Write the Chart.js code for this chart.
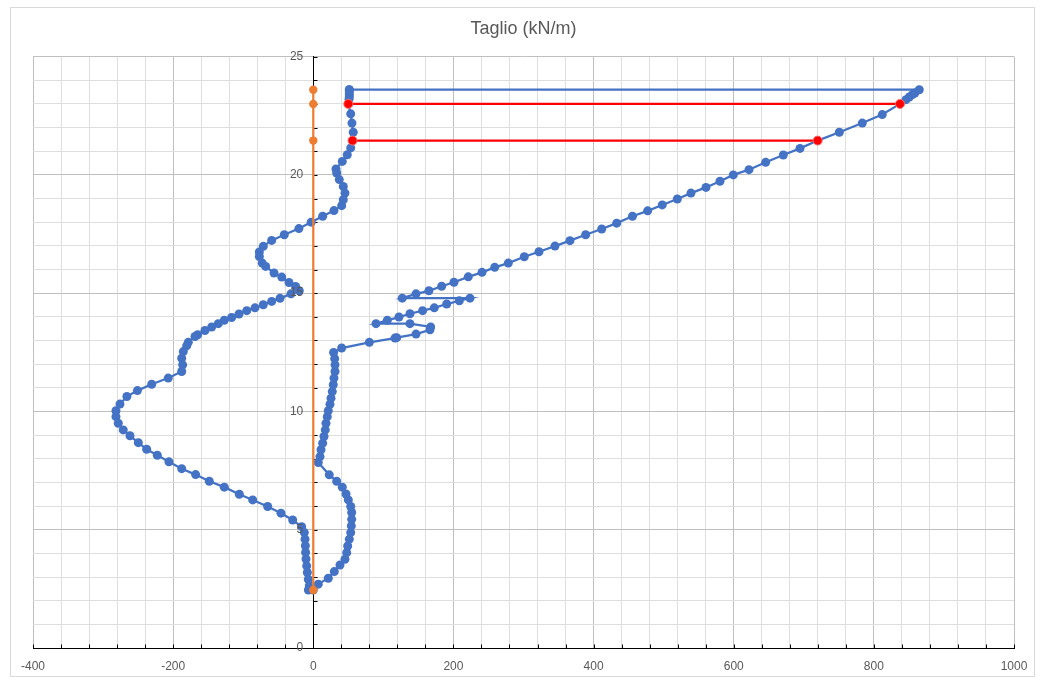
<!DOCTYPE html>
<html>
<head>
<meta charset="utf-8">
<script src="https://cdn.jsdelivr.net/npm/chart.js@4/dist/chart.umd.min.js"></script>
<style>
  html, body { margin: 0; padding: 0; background: #fff; }
  #wrap { width: 1044px; height: 681px; }
</style>
</head>
<body>
<div id="wrap"><canvas id="chart"></canvas></div>
<script>
// blue envelope: left branch top->bottom, right branch bottom->top, back to start
const blueX = [51.4,51.4,51.4,51.4,51,50,53.4,55.2,57,56,53.4,48.5,41.4,32.4,33.4,37.1,42.8,45.2,42.8,40.5,29.5,13.4,-3,-20.5,-41.4,-59.4,-71.4,-77,-77,-72.8,-68,-56,-45,-34.7,-25.2,-20,-31.8,-47.5,-59.4,-71.4,-83.2,-95,-106,-116.5,-127,-135.6,-145,-154.6,-165,-168.8,-178.4,-180.7,-185.5,-187.8,-186.4,-187.8,-207,-230.6,-251,-266,-275.9,-281.6,-281.6,-278.3,-271.2,-261.6,-249.7,-237.8,-222.6,-206,-187.8,-167.9,-148.4,-127,-105.6,-86.5,-65.1,-46.1,-29.4,-16.6,-12.8,-11.8,-11.3,-11,-10.4,-9.4,-8.5,-7.1,-5.7,-7,
  0,7.1,21.4,30,38.1,45.2,47.7,49.1,51.4,53.4,54.3,54.8,54.8,53.4,50,46.7,41.4,33.4,22.8,7.1,9.6,11,13.4,15.3,17.1,18.1,20,21.4,23.8,25.3,27.1,28.5,29.5,31,31,30.5,29,40.5,80,116.6,119,146.6,166.5,167.5,138,89.5,105.6,122.3,138,156,172.7,190.4,208.4,223.6,127,146.6,165,183.2,200.8,221.2,240.8,258.9,278.3,301.1,322.1,344.9,366.3,388.7,411.6,433,455.5,477.2,498,519.5,539,560.4,580.4,599.4,621.8,645.6,670.8,694.6,719.8,750.7,783.5,812,837.3,845.9,850.6,855,858.5,864.8,51.4];
const blueY = [23.6,23.5,23.4,23.3,23.2,23.0,22.58,22.19,21.8,21.45,21.14,20.85,20.57,20.25,20.08,19.8,19.51,19.23,18.95,18.7,18.49,18.25,18.0,17.73,17.47,17.23,16.98,16.74,16.55,16.27,16.13,15.85,15.68,15.45,15.28,15.1,14.97,14.78,14.65,14.51,14.38,14.26,14.12,13.97,13.85,13.71,13.57,13.42,13.24,13.17,12.92,12.77,12.53,12.25,11.97,11.69,11.41,11.15,10.88,10.63,10.31,10.03,9.78,9.5,9.22,8.97,8.68,8.4,8.15,7.87,7.58,7.33,7.05,6.8,6.5,6.26,5.98,5.7,5.41,5.13,4.88,4.6,4.32,4.04,3.76,3.47,3.19,2.9,2.63,2.45,
  2.45,2.7,2.95,3.23,3.51,3.75,4.03,4.31,4.6,4.88,5.16,5.44,5.73,5.98,6.26,6.51,6.8,7.05,7.32,7.84,8.09,8.38,8.66,8.94,9.22,9.5,9.78,10.03,10.3,10.56,10.84,11.13,11.41,11.69,11.97,12.23,12.49,12.68,12.92,13.1,13.12,13.27,13.45,13.57,13.71,13.71,13.85,13.99,14.13,14.26,14.38,14.54,14.68,14.79,14.79,14.97,15.1,15.29,15.46,15.69,15.88,16.09,16.27,16.54,16.75,16.99,17.22,17.47,17.71,17.96,18.25,18.48,18.73,18.98,19.23,19.47,19.73,20.0,20.22,20.53,20.84,21.12,21.45,21.8,22.19,22.55,23.0,23.18,23.29,23.39,23.46,23.6,23.6];

// red links
const redTopX = [50, 837.3];
const redTopY = [23.0, 23.0];
const redLowX = [56, 719.8];
const redLowY = [21.45, 21.45];

// orange vertical
const orangeX = [0, 0, 0, 0];
const orangeY = [2.45, 21.45, 23.0, 23.6];

const xTicks = [-400, -200, 0, 200, 400, 600, 800, 1000];
const yTicks = [0, 5, 10, 15, 20, 25];

const pts = (xs, ys) => xs.map((x, i) => ({x, y: ys[i]}));

const textCol = "#595959";
const majorGrid = "#bfbfbf";
const minorGrid = "#dedede";
const font = "'Liberation Sans', Arial, sans-serif";

const frame = {
  id: "frame",
  beforeDraw(c) {
    const g = c.ctx;
    g.save();
    g.fillStyle = "#fff";
    g.fillRect(0, 0, c.width, c.height);
    g.strokeStyle = "#d9d9d9";
    g.lineWidth = 1;
    g.strokeRect(10.5, 7.5, 1024, 669);
    g.restore();
  }
};

// small black tick marks on the axes, every minor step
const tickMarks = {
  id: "tickMarks",
  beforeDatasetsDraw(c) {
    const g = c.ctx, xs = c.scales.x, ys = c.scales.y;
    const x0 = Math.round(xs.getPixelForValue(0)) + 0.5;
    const y0 = Math.round(ys.getPixelForValue(0)) + 0.5;
    g.save();
    g.strokeStyle = "#000";
    g.lineWidth = 1;
    g.beginPath();
    xs.ticks.forEach(t => {
      const p = Math.round(xs.getPixelForValue(t.value)) + 0.5;
      g.moveTo(p, y0); g.lineTo(p, y0 - 4);
    });
    ys.ticks.forEach(t => {
      const p = Math.round(ys.getPixelForValue(t.value)) + 0.5;
      g.moveTo(x0, p); g.lineTo(x0 + 4, p);
    });
    g.stroke();
    g.restore();
  }
};

new Chart(document.getElementById("chart"), {
  type: "scatter",
  data: {
    datasets: [
      {
        data: pts(orangeX, orangeY), showLine: true,
        borderColor: "#ED7D31", backgroundColor: "#ED7D31",
        borderWidth: 2.25, pointRadius: 4.2, pointBorderWidth: 0
      },
      {
        data: pts(redTopX, redTopY), showLine: true,
        borderColor: "#FF0000", backgroundColor: "#FF0000",
        borderWidth: 2.25, pointRadius: 4.5, pointBorderWidth: 1, pointBorderColor: "#ff7070"
      },
      {
        data: pts(redLowX, redLowY), showLine: true,
        borderColor: "#FF0000", backgroundColor: "#FF0000",
        borderWidth: 2.25, pointRadius: 4.5, pointBorderWidth: 1, pointBorderColor: "#ff7070"
      },
      {
        data: pts(blueX, blueY), showLine: true,
        borderColor: "#4472C4", backgroundColor: "#4472C4",
        borderWidth: 2.25, pointRadius: 4.5, pointBorderWidth: 0
      }
    ]
  },
  options: {
    responsive: true,
    maintainAspectRatio: false,
    animation: false,
    layout: { padding: { left: 33, right: 30, top: 0, bottom: 33 } },
    plugins: {
      legend: { display: false },
      tooltip: { enabled: false },
      title: {
        display: true,
        text: "Taglio (kN/m)",
        color: textCol,
        font: { family: font, size: 18, weight: "normal" },
        padding: { top: 18, bottom: 17 }
      }
    },
    scales: {
      x: {
        type: "linear",
        position: { y: 0 },
        min: -400, max: 1000,
        border: { color: "#000", width: 1 },
        grid: {
          drawTicks: false,
          color: ctx => xTicks.includes(ctx.tick && ctx.tick.value) ? majorGrid : minorGrid
        },
        ticks: {
          stepSize: 40, maxTicksLimit: 100, autoSkip: false, maxRotation: 0,
          padding: 11, color: textCol,
          font: { family: font, size: 12 },
          callback: v => xTicks.includes(v) ? String(v) : ""
        }
      },
      y: {
        type: "linear",
        position: { x: 0 },
        min: 0, max: 25,
        border: { color: "#000", width: 1 },
        grid: {
          drawTicks: false,
          color: ctx => yTicks.includes(ctx.tick && ctx.tick.value) ? majorGrid : minorGrid
        },
        ticks: {
          stepSize: 1, maxTicksLimit: 100, autoSkip: false,
          z: 1,
          color: textCol,
          font: { family: font, size: 12 },
          // axis sits at x=0, where chart.js ignores tick padding; trailing spaces keep labels off the line
          callback: v => yTicks.includes(v) ? v + "   " : ""
        }
      }
    }
  },
  plugins: [frame, tickMarks]
});
</script>
</body>
</html>
